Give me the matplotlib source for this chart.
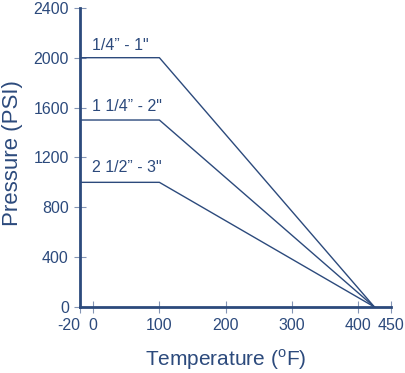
import matplotlib
matplotlib.use('Agg')
import matplotlib.pyplot as plt

# temperatura (F) e pressione (PSI) per le tre misure
temp = [-20, 100, 425]
p_small = [2000, 2000, 0]
p_mid = [1500, 1500, 0]
p_large = [1000, 1000, 0]
labels = ['1/4\u201d - 1"', '1 1/4\u201d - 2"', '2 1/2\u201d - 3"']
label_y = [2100, 1610, 1120]

xticks = [-20, 0, 100, 200, 300, 400, 450]
yticks = [0, 400, 800, 1200, 1600, 2000, 2400]

blu = '#2c4a7c'
tick_col = '#8495b5'

plt.rcParams['font.family'] = ['Liberation Sans', 'DejaVu Sans']
plt.rcParams['mathtext.fontset'] = 'custom'
plt.rcParams['mathtext.rm'] = 'Liberation Sans'
plt.rcParams['axes.unicode_minus'] = False

fig = plt.figure(figsize=(4.06, 3.73), dpi=100)
ax = fig.add_axes([0.197, 0.177, 0.766, 0.802])

for p in [p_small, p_mid, p_large]:
    ax.plot(temp, p, color=blu, lw=1)

for lab, yy in zip(labels, label_y):
    ax.text(-2, yy, lab, color=blu, fontsize=11.5, ha='left', va='center')

ax.set_xlim(-20, 450)
ax.set_ylim(0, 2400)
ax.set_xticks(xticks)
ax.set_yticks(yticks)
ax.tick_params(direction='inout', length=8, width=0.8, color=tick_col,
               labelcolor=blu, labelsize=11.5, pad=4)
# -20 sta sullo spigolo: sposto l'etichetta a sinistra per non coprire lo 0
ax.get_xticklabels()[0].set_horizontalalignment('right')
ax.get_xticklabels()[0].set_x(-14)
for s in ['top', 'right']:
    ax.spines[s].set_visible(False)
for s in ['left', 'bottom']:
    ax.spines[s].set_color(blu)
    ax.spines[s].set_linewidth(2)

ax.set_xlabel('Temperature ($^{\\mathrm{o}}$F)', color=blu, fontsize=15)
ax.xaxis.set_label_coords((226 - 80) / 311, -0.135)
ax.set_ylabel('Pressure (PSI)', color=blu, fontsize=16)
ax.yaxis.set_label_coords(-0.183, 0.515)

fig.savefig('out.png', dpi=100)
